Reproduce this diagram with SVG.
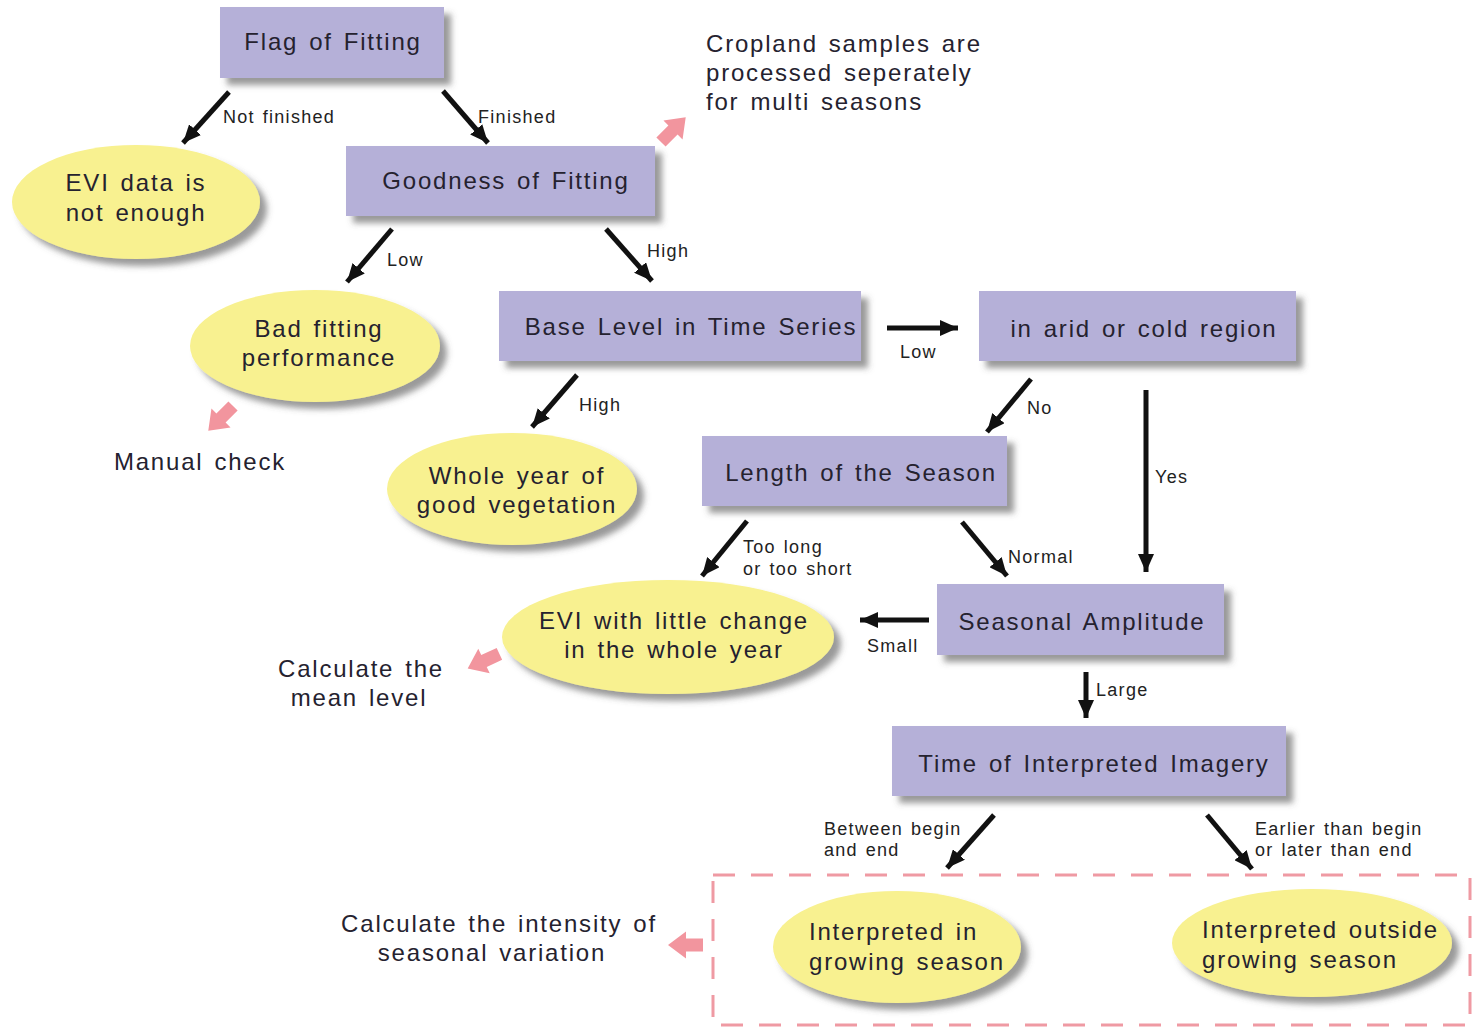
<svg xmlns="http://www.w3.org/2000/svg" width="1474" height="1028" viewBox="0 0 1474 1028">
  <style>
    .box { fill: #b5b0d8; filter: url(#shadow); }
    .oval { fill: #f8f190; filter: url(#shadow); }
    .t { font-family: "Liberation Sans", Arial, sans-serif; font-size: 24px; letter-spacing: 1.8px; word-spacing: 2.5px; fill: #25222f; }
    .mid { text-anchor: middle; }
    .lbl { font-family: "Liberation Sans", Arial, sans-serif; font-size: 18px; letter-spacing: 1.3px; word-spacing: 1.5px; fill: #222; }
    .link { stroke: #111; stroke-width: 5; fill: none; marker-end: url(#head); }
    .pink { fill: #f2959e; }
    .frame { fill: none; stroke: #ef9aa3; stroke-width: 3; stroke-dasharray: 22 16; }
  </style>
  <defs>
    <filter id="shadow" x="-10%" y="-10%" width="130%" height="140%">
      <feDropShadow dx="7" dy="7" stdDeviation="3" flood-color="#555" flood-opacity="0.6"/>
    </filter>
    <marker id="head" markerUnits="userSpaceOnUse" markerWidth="19" markerHeight="16" refX="18" refY="8" orient="auto">
      <path d="M0,0 L18,8 L0,16 z" fill="#111"/>
    </marker>
    <!-- pink block arrow pointing along +x, centred on the origin -->
    <path id="block" d="M-17,-6.5 L0,-6.5 L0,-13.5 L18,0 L0,13.5 L0,6.5 L-17,6.5 z"/>
  </defs>

  <rect width="1474" height="1028" fill="#ffffff"/>

  <!-- dashed frame around the two final outcomes -->
  <rect class="frame" x="713" y="875" width="757" height="150"/>

  <!-- decision boxes -->
  <g id="flag-of-fitting">
    <rect class="box" x="220" y="7" width="224" height="71"/>
    <text class="t mid" x="333" y="50">Flag of Fitting</text>
  </g>
  <g id="goodness-of-fitting">
    <rect class="box" x="346" y="146" width="309" height="70"/>
    <text class="t mid" x="506" y="189">Goodness of Fitting</text>
  </g>
  <g id="base-level">
    <rect class="box" x="499" y="291" width="362" height="70"/>
    <text class="t mid" x="691" y="335">Base Level in Time Series</text>
  </g>
  <g id="arid-or-cold">
    <rect class="box" x="979" y="291" width="317" height="70"/>
    <text class="t mid" x="1144" y="337">in arid or cold region</text>
  </g>
  <g id="length-of-season">
    <rect class="box" x="702" y="436" width="305" height="70"/>
    <text class="t mid" x="861" y="481">Length of the Season</text>
  </g>
  <g id="seasonal-amplitude">
    <rect class="box" x="937" y="584" width="287" height="71"/>
    <text class="t mid" x="1082" y="630">Seasonal Amplitude</text>
  </g>
  <g id="time-of-imagery">
    <rect class="box" x="892" y="726" width="394" height="70"/>
    <text class="t mid" x="1094" y="772">Time of Interpreted Imagery</text>
  </g>

  <!-- outcome ovals -->
  <g id="evi-not-enough">
    <ellipse class="oval" cx="136" cy="202" rx="124" ry="57"/>
    <text class="t mid" x="136" y="191">EVI data is</text>
    <text class="t mid" x="136" y="221">not enough</text>
  </g>
  <g id="bad-fitting">
    <ellipse class="oval" cx="315" cy="346" rx="125" ry="56"/>
    <text class="t mid" x="319" y="337">Bad fitting</text>
    <text class="t mid" x="319" y="366">performance</text>
  </g>
  <g id="whole-year-vegetation">
    <ellipse class="oval" cx="512" cy="489" rx="125" ry="56"/>
    <text class="t mid" x="517" y="484">Whole year of</text>
    <text class="t mid" x="517" y="513">good vegetation</text>
  </g>
  <g id="little-change">
    <ellipse class="oval" cx="668" cy="637" rx="166" ry="57"/>
    <text class="t mid" x="674" y="629">EVI with little change</text>
    <text class="t mid" x="674" y="658">in the whole year</text>
  </g>
  <g id="in-growing-season">
    <ellipse class="oval" cx="897" cy="947" rx="124" ry="56"/>
    <text class="t" x="809" y="940">Interpreted in</text>
    <text class="t" x="809" y="970">growing season</text>
  </g>
  <g id="outside-growing-season">
    <ellipse class="oval" cx="1312" cy="943" rx="140" ry="54"/>
    <text class="t" x="1202" y="938">Interpreted outside</text>
    <text class="t" x="1202" y="968">growing season</text>
  </g>

  <!-- free notes -->
  <g id="cropland-note">
    <text class="t" x="706" y="52">Cropland samples are</text>
    <text class="t" x="706" y="81">processed seperately</text>
    <text class="t" x="706" y="110">for multi seasons</text>
    <use href="#block" class="pink" transform="translate(673,130) rotate(-45)"/>
  </g>
  <g id="manual-check">
    <text class="t mid" x="200" y="470">Manual check</text>
    <use href="#block" class="pink" transform="translate(221,418) rotate(135)"/>
  </g>
  <g id="mean-level">
    <text class="t mid" x="361" y="677">Calculate the</text>
    <text class="t mid" x="359" y="706">mean level</text>
    <use href="#block" class="pink" transform="translate(484,661) rotate(155)"/>
  </g>
  <g id="seasonal-intensity">
    <text class="t mid" x="499" y="932">Calculate the intensity of</text>
    <text class="t mid" x="492" y="961">seasonal variation</text>
    <use href="#block" class="pink" transform="translate(686,945) rotate(180)"/>
  </g>

  <!-- connectors -->
  <g id="connectors">
    <line class="link" x1="229" y1="92" x2="183" y2="143"/>
    <line class="link" x1="443" y1="91" x2="488" y2="143"/>
    <line class="link" x1="392" y1="229" x2="347" y2="282"/>
    <line class="link" x1="606" y1="229" x2="652" y2="281"/>
    <line class="link" x1="577" y1="375" x2="532" y2="427"/>
    <line class="link" x1="887" y1="328" x2="958" y2="328"/>
    <line class="link" x1="1031" y1="379" x2="987" y2="432"/>
    <line class="link" x1="1146" y1="390" x2="1146" y2="572"/>
    <line class="link" x1="747" y1="521" x2="702" y2="576"/>
    <line class="link" x1="962" y1="522" x2="1007" y2="576"/>
    <line class="link" x1="929" y1="620" x2="860" y2="620"/>
    <line class="link" x1="1086" y1="672" x2="1086" y2="718"/>
    <line class="link" x1="994" y1="815" x2="947" y2="868"/>
    <line class="link" x1="1207" y1="815" x2="1252" y2="869"/>

    <text class="lbl" x="223" y="123">Not finished</text>
    <text class="lbl" x="478" y="123">Finished</text>
    <text class="lbl" x="387" y="266">Low</text>
    <text class="lbl" x="647" y="257">High</text>
    <text class="lbl" x="579" y="411">High</text>
    <text class="lbl" x="900" y="358">Low</text>
    <text class="lbl" x="1027" y="414">No</text>
    <text class="lbl" x="1155" y="483">Yes</text>
    <text class="lbl" x="743" y="553">Too long</text>
    <text class="lbl" x="743" y="575">or too short</text>
    <text class="lbl" x="1008" y="563">Normal</text>
    <text class="lbl" x="867" y="652">Small</text>
    <text class="lbl" x="1096" y="696">Large</text>
    <text class="lbl" x="824" y="835">Between begin</text>
    <text class="lbl" x="824" y="856">and end</text>
    <text class="lbl" x="1255" y="835">Earlier than begin</text>
    <text class="lbl" x="1255" y="856">or later than end</text>
  </g>
</svg>
